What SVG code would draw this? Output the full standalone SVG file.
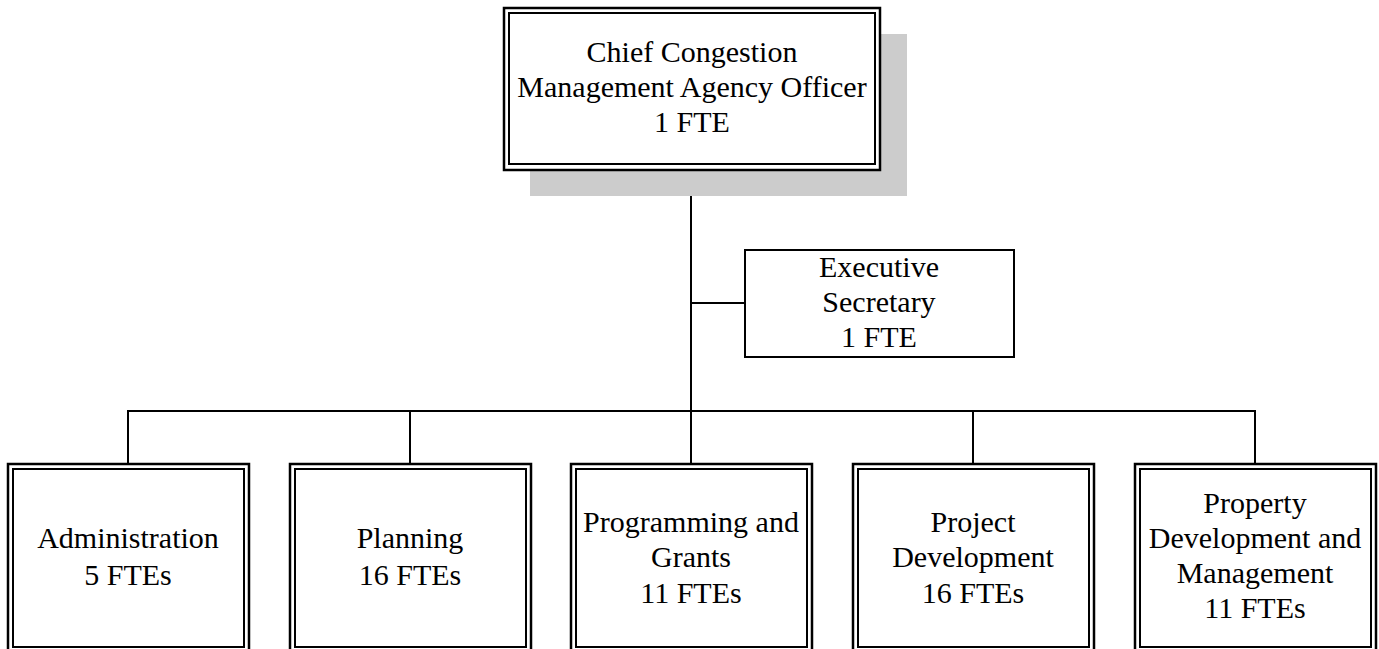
<svg xmlns="http://www.w3.org/2000/svg" width="1379" height="649" viewBox="0 0 1379 649">
<style>
.t{font-family:"Liberation Serif","Times New Roman",serif;font-size:30px;fill:#000;text-anchor:middle}
.o{fill:#fff;stroke:#000;stroke-width:2.5}
.i{fill:none;stroke:#000;stroke-width:2}
.s{fill:#fff;stroke:#000;stroke-width:2}
.c{fill:none;stroke:#000;stroke-width:2}
</style>
<rect width="1379" height="649" fill="#fff"/>
<g id="connectors">
<line class="c" x1="691" y1="170" x2="691" y2="411"/>
<line class="c" x1="691" y1="303" x2="745" y2="303"/>
<line class="c" x1="127" y1="411" x2="1255" y2="411"/>
<line class="c" x1="128" y1="410" x2="128" y2="464"/>
<line class="c" x1="410" y1="410" x2="410" y2="464"/>
<line class="c" x1="691" y1="410" x2="691" y2="464"/>
<line class="c" x1="973" y1="410" x2="973" y2="464"/>
<line class="c" x1="1255" y1="410" x2="1255" y2="464"/>
</g>
<g id="chief">
<rect x="530" y="34" width="377" height="162" fill="#cccccc"/>
<rect class="o" x="504" y="8" width="376" height="162"/>
<rect class="i" x="509" y="13" width="366" height="151"/>
<text class="t" x="692" y="62">Chief Congestion</text>
<text class="t" x="692" y="97">Management Agency Officer</text>
<text class="t" x="692" y="132">1 FTE</text>
</g>
<g id="secretary">
<rect class="s" x="745" y="250" width="269" height="107"/>
<text class="t" x="879" y="277">Executive</text>
<text class="t" x="879" y="312">Secretary</text>
<text class="t" x="879" y="347">1 FTE</text>
</g>
<g id="administration">
<rect class="o" x="8" y="464" width="241" height="190"/>
<rect class="i" x="13" y="469" width="231" height="178"/>
<text class="t" x="128" y="548">Administration</text>
<text class="t" x="128" y="585">5 FTEs</text>
</g>
<g id="planning">
<rect class="o" x="290" y="464" width="241" height="190"/>
<rect class="i" x="295" y="469" width="231" height="178"/>
<text class="t" x="410" y="548">Planning</text>
<text class="t" x="410" y="585">16 FTEs</text>
</g>
<g id="programming">
<rect class="o" x="571" y="464" width="241" height="190"/>
<rect class="i" x="576" y="469" width="231" height="178"/>
<text class="t" x="691" y="532">Programming and</text>
<text class="t" x="691" y="567">Grants</text>
<text class="t" x="691" y="603">11 FTEs</text>
</g>
<g id="project">
<rect class="o" x="853" y="464" width="241" height="190"/>
<rect class="i" x="858" y="469" width="231" height="178"/>
<text class="t" x="973" y="532">Project</text>
<text class="t" x="973" y="567">Development</text>
<text class="t" x="973" y="603">16 FTEs</text>
</g>
<g id="property">
<rect class="o" x="1135" y="464" width="241" height="190"/>
<rect class="i" x="1140" y="469" width="231" height="178"/>
<text class="t" x="1255" y="513">Property</text>
<text class="t" x="1255" y="548">Development and</text>
<text class="t" x="1255" y="583">Management</text>
<text class="t" x="1255" y="618">11 FTEs</text>
</g>
</svg>
